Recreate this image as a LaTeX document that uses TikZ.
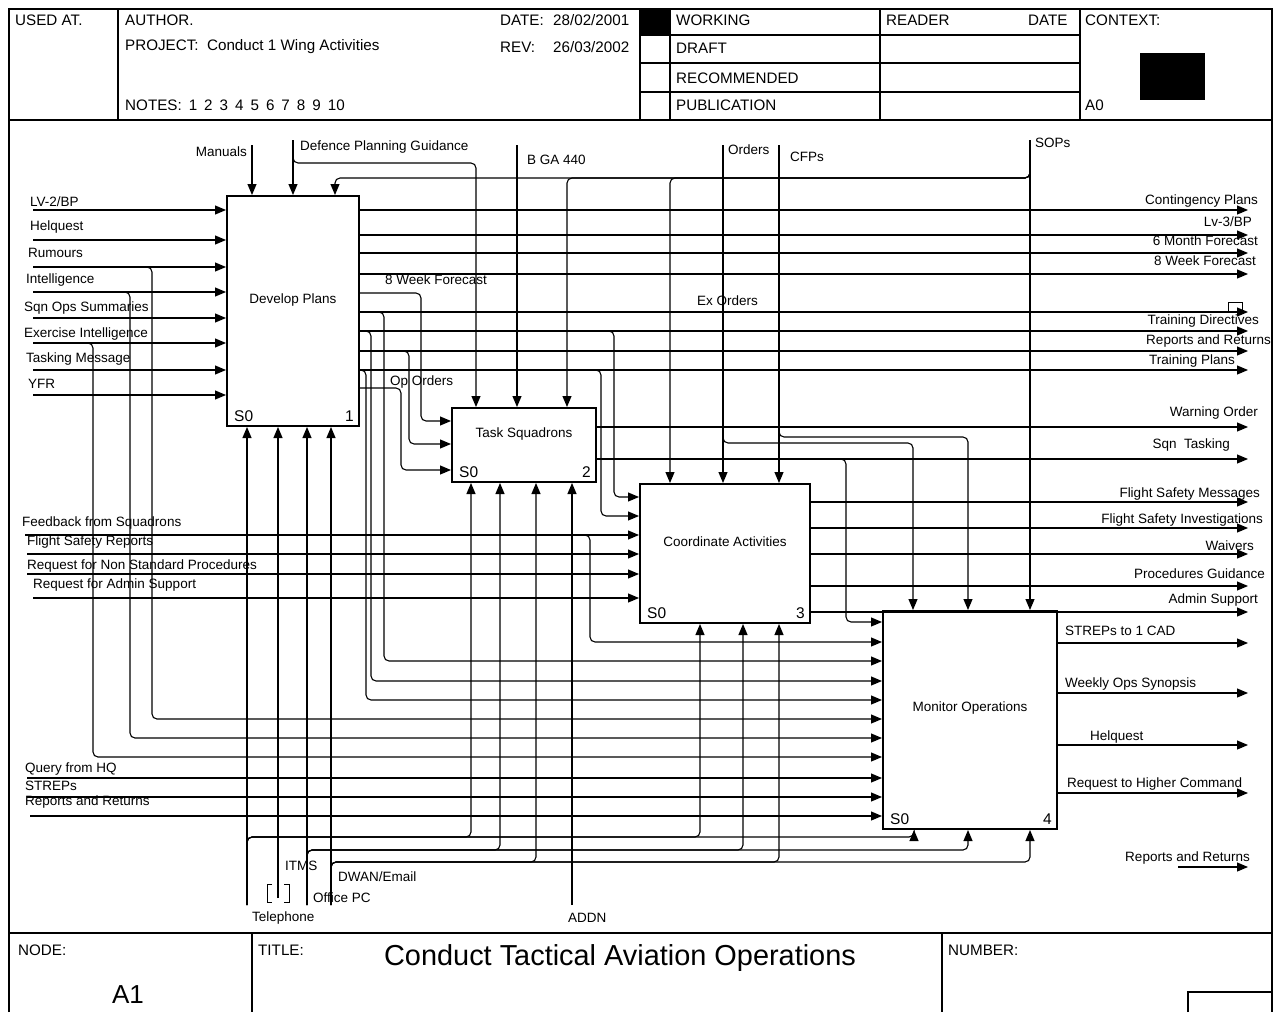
\documentclass[tikz,border=0pt]{standalone}
\usepackage{fontspec}
\setmainfont{Liberation Sans}
\usetikzlibrary{arrows.meta, positioning}

\newcommand{\tagfont}{\fontsize{13.5}{15}\selectfont}
\newcommand{\hdrfont}{\fontsize{15.2}{17}\selectfont}
\newcommand{\numfont}{\fontsize{15.5}{17}\selectfont}

\begin{document}
\begin{tikzpicture}[x=1pt, y=-1pt, >={Triangle[length=11pt,width=9pt]},
    act/.style={draw, line width=2pt, inner sep=0pt},
    flow/.style={->, line width=1.1pt, rounded corners=5pt},
    tag/.style={font=\tagfont, inner sep=0pt},
    hdr/.style={font=\hdrfont, inner sep=0pt, anchor=west},
    sno/.style={font=\numfont, inner sep=0pt},
    rule/.style={line width=1.1pt}]

\useasboundingbox (0,0) rectangle (1274,1012);

% Frame, header and footer
\draw[rule] (9,1012) -- (9,9) -- (1272,9) -- (1272,1012);
\draw[rule] (9,120) -- (1272,120) (9,933) -- (1272,933);
\foreach \x in {118,640,670,880,1080} \draw[rule] (\x,9) -- (\x,120);
\foreach \y in {35,63,92} \draw[rule] (640,\y) -- (1080,\y);
\fill (641,9) rectangle (669,35);
\fill (1140,53) rectangle (1205,100);
\draw[rule] (252,933) -- (252,1012) (942,933) -- (942,1012);
\draw[rule] (1188,1012) |- (1272,992);

\foreach \x/\y/\t [count=\i] in {15/20/USED AT., 125/20/AUTHOR., 500/20/DATE:, 553/20/{28/02/2001},
    125/47/PROJECT:~ Conduct 1 Wing Activities, 500/47/REV:, 553/47/{26/03/2002},
    676/20/WORKING, 676/48/DRAFT, 676/78/RECOMMENDED, 676/105/PUBLICATION,
    886/20/READER, 1028/20/DATE, 1085/20/CONTEXT:, 1085/105/A0,
    18/950/NODE:, 258/950/TITLE:, 948/950/NUMBER:}
  \node[hdr] (h\i) at (\x,\y) {\t};
\node[hdr] (notes) at (125,105) {\spaceskip=7pt NOTES: 1 2 3 4 5 6 7 8 9 10};
\node[font=\fontsize{26}{28}\selectfont, inner sep=0pt] (node) at (128,995) {A1};
\node[font=\fontsize{28.9}{32}\selectfont, inner sep=0pt] (title) at (620,958) {Conduct Tactical Aviation Operations};

% Activity boxes
\node[act, minimum width=132pt, minimum height=230pt] (dp) at (293,311) {};
\node[act, minimum width=144pt, minimum height=74pt] (ts) at (524,445) {};
\node[act, minimum width=170pt, minimum height=139pt] (ca) at (725,553.5) {};
\node[act, minimum width=174pt, minimum height=218pt] (mo) at (970,720) {};

\node[tag] (dpt) at ([yshift=11pt]dp.center) {Develop Plans};
\node[tag] (tst) at ([yshift=11pt]ts.center) {Task Squadrons};
\node[tag] (cat) at ([yshift=12pt]ca.center) {Coordinate Activities};
\node[tag] (mot) at ([yshift=12pt]mo.center) {Monitor Operations};

\foreach \b/\n in {dp/1, ts/2, ca/3, mo/4} {
  \node[sno, anchor=south west] (\b s) at ([shift={(8pt,5pt)}]\b.south west) {S0};
  \node[sno, anchor=south east] (\b n) at ([shift={(-6pt,5pt)}]\b.south east) {\n};
}

% Inputs of Develop Plans
\foreach \y/\lx/\ly/\t [count=\i] in {210/30/202/{LV-2/BP}, 240/30/227/Helquest, 267/28/253/Rumours,
    292/26/280/Intelligence, 318/24/308/Sqn Ops Summaries, 343/24/334/Exercise Intelligence,
    370/26/359/Tasking Message, 395/28/384/YFR} {
  \coordinate (in\i) at (33,\y);
  \draw[flow] (in\i) -- (in\i -| dp.west);
  \node[tag, anchor=west] (inl\i) at (\lx,\ly) {\t};
}
\draw[flow] (in3) -- ++(119,0) |- (mo.west |- 0,719);
\draw[flow] (in4) -- ++(97,0) |- (mo.west |- 0,738);
\draw[flow] (in6) -- ++(60,0) |- (mo.west |- 0,757);

% Outputs of Develop Plans
\foreach \y/\n in {210/cp, 235/lv, 253/mf, 274/wf, 312/ex, 331/td, 351/rr, 370/tp} {
  \coordinate (\n) at (1248,\y);
  \draw[flow] (\n -| dp.east) -- (\n);
}
\draw[flow] (dp.east |- 0,293) -- ++(61,0) |- (ts.west |- 0,421);
\draw[flow] (ex -| dp.east) -- ++(24,0) |- (mo.west |- 0,661);
\draw[flow] (td -| dp.east) -- ++(11,0) |- (mo.west |- 0,681);
\draw[flow] (td -| dp.east) -- ++(254,0) |- (ca.west |- 0,497);
\draw[flow] (rr -| dp.east) -- ++(49,0) |- (ts.west |- 0,444);
\draw[flow] (tp -| dp.east) -- ++(6,0) |- (mo.west |- 0,700);
\draw[flow] (tp -| dp.east) -- ++(241,0) |- (ca.west |- 0,516);
\draw[flow] (dp.east |- 0,388) -- ++(41,0) |- (ts.west |- 0,470);
\node[tag, anchor=west] (wfl) at (385,280) {8 Week Forecast};
\node[tag, anchor=west] (exl) at (697,301) {Ex Orders};
\node[tag, anchor=west] (opl) at (390,382) {Op Orders};
\draw[line width=1pt] (1228,311) |- (1242,302) -- (1242,311);

% Outputs of Task Squadrons
\coordinate (wo) at (1248,427);
\coordinate (sq) at (1248,459);
\draw[flow] (wo -| ts.east) -- (wo);
\draw[flow] (sq -| ts.east) -- (sq);
\draw[flow] (sq -| ts.east) -- ++(249,0) |- (mo.west |- 0,622);

% Inputs and outputs of Coordinate Activities
\foreach \y/\sx/\lx/\ly/\t [count=\i] in {535/25/22/523/Feedback from Squadrons,
    554/27/27/542/Flight Safety Reports, 574/27/27/566/Request for Non Standard Procedures,
    598/33/33/585/Request for Admin Support} {
  \coordinate (ci\i) at (\sx,\y);
  \draw[flow] (ci\i) -- (ci\i -| ca.west);
  \node[tag, anchor=west] (cil\i) at (\lx,\ly) {\t};
}
\draw[flow] (ci1) -- ++(565,0) |- (mo.west |- 0,642);
\foreach \y/\n in {502/fm, 528/fi, 554/wv, 586/pg, 612/as} {
  \coordinate (\n) at (1248,\y);
  \draw[flow] (\n -| ca.east) -- (\n);
}

% Inputs and outputs of Monitor Operations
\foreach \y/\sx/\ly/\t [count=\i] in {778/27/769/Query from HQ, 797/27/786/STREPs, 816/30/802/Reports and Returns} {
  \coordinate (mi\i) at (\sx,\y);
  \draw[flow] (mi\i) -- (mi\i -| mo.west);
  \node[tag, anchor=west] (mil\i) at (25,\ly) {\t};
}
\foreach \y/\lx/\ly/\t [count=\i] in {643/1065/631/STREPs to 1 CAD, 693/1065/684/Weekly Ops Synopsis,
    745/1090/737/Helquest, 793/1067/784/Request to Higher Command} {
  \coordinate (mout\i) at (1248,\y);
  \draw[flow] (mout\i -| mo.east) -- (mout\i);
  \node[tag, anchor=west] (mol\i) at (\lx,\ly) {\t};
}
\coordinate (rs) at (1178,867);
\coordinate (re) at (1248,867);
\draw[flow] (rs) -- (re);

% Right edge labels
\foreach \x/\y/\t [count=\i] in {1258/201/Contingency Plans, 1252/222/{Lv-3/BP}, 1258/241/6 Month Forecast,
    1256/261/8 Week Forecast, 1259/321/Training Directives, 1271/341/Reports and Returns,
    1235/361/Training Plans, 1258/413/Warning Order, 1230/445/Sqn~ Tasking,
    1260/494/Flight Safety Messages, 1263/520/Flight Safety Investigations, 1254/546/Waivers,
    1265/574/Procedures Guidance, 1258/600/Admin Support, 1250/858/Reports and Returns}
  \node[tag, anchor=east] (rl\i) at (\x,\y) {\t};

% Controls
\coordinate (man) at (252,145);
\coordinate (dpg) at (293,140);
\coordinate (bga) at (517,145);
\coordinate (ord) at (723,145);
\coordinate (cfp) at (779,145);
\coordinate (sop) at (1030,140);
\draw[flow] (man) -- (man |- dp.north);
\draw[flow] (dpg) -- (dpg |- dp.north);
\draw[flow] (dpg) -- ++(0,23) -| ([xshift=-48pt]ts.north);
\draw[flow] (bga) -- (bga |- ts.north);
\draw[flow] (ord) -- (ord |- ca.north);
\draw[flow] (ord) -- ++(0,298) -| ([xshift=-57pt]mo.north);
\draw[flow] (cfp) -- (cfp |- ca.north);
\draw[flow] (cfp) -- ++(0,292) -| ([xshift=-2pt]mo.north);
\draw[flow] (sop) -- (sop |- mo.north);
\foreach \b/\s in {dp/42, ts/43, ca/-55}
  \draw[flow] (sop) -- ++(0,38) -| ([xshift=\s pt]\b.north);
\node[tag, anchor=east] (manl) at (247,152) {Manuals};
\node[tag, anchor=west] (dpgl) at (300,147) {Defence Planning Guidance};
\node[tag, anchor=west] (bgal) at (527,160) {B GA 440};
\node[tag, anchor=west] (ordl) at (728,150) {Orders};
\node[tag, anchor=west] (cfpl) at (790,157) {CFPs};
\node[tag, anchor=west] (sopl) at (1035,143) {SOPs};

% Mechanisms
\coordinate (tel) at (247,905);
\coordinate (itm) at (278,898);
\coordinate (opc) at (307,905);
\coordinate (dwn) at (331,905);
\coordinate (adn) at (572,905);
\foreach \m in {tel, itm, opc, dwn} \draw[flow] (\m) -- (\m |- dp.south);
\draw[flow] (adn) -- (adn |- ts.south);
\foreach \b/\s in {ts/-53, ca/-25, mo/-56}
  \draw[flow] (tel) -- ++(0,-68) -| ([xshift=\s pt]\b.south);
\foreach \b/\s in {ts/-24, ca/18, mo/-2}
  \draw[flow] (opc) -- ++(0,-55) -| ([xshift=\s pt]\b.south);
\foreach \b/\s in {ts/12, ca/54, mo/60}
  \draw[flow] (dwn) -- ++(0,-43) -| ([xshift=\s pt]\b.south);
\draw[line width=1pt] (272,884) -| (267,902) -- (272,902);
\draw[line width=1pt] (284,884) -| (289,902) -- (284,902);
\node[tag, anchor=west] (tell) at (252,918) {Telephone};
\node[tag, anchor=west] (itml) at (285,866) {ITMS};
\node[tag, anchor=west] (opcl) at (313,898) {Office PC};
\node[tag, anchor=west] (dwnl) at (338,877) {DWAN/Email};
\node[tag, anchor=west] (adnl) at (568,918) {ADDN};
\end{tikzpicture}
\end{document}
